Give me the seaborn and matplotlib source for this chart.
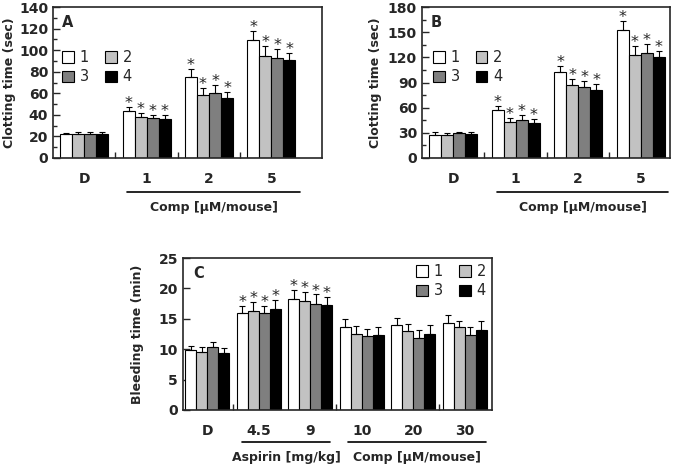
import numpy as np
import pandas as pd
import matplotlib.pyplot as plt
from matplotlib.ticker import MultipleLocator
import seaborn as sns

sns.set_theme(style='ticks')
plt.rcParams['font.family'] = ['DejaVu Sans']

series = ['1', '2', '3', '4']
bar_colors = ['#ffffff', '#c2c2c2', '#7f7f7f', '#000000']

# panel A: clotting time (sec)
groups_a = ['D', '1', '2', '5']
a_mean = {'1': [22, 43.5, 75, 109], '2': [22.5, 38, 58, 95],
          '3': [22, 37, 60.5, 92.5], '4': [22.5, 36.5, 56, 91]}
a_err = {'1': [1.5, 3.5, 7.5, 9], '2': [1.5, 3.5, 7, 9],
         '3': [2, 3, 7, 9], '4': [1.5, 3, 5, 6]}
a_stars = [1, 2, 3]

# panel B: clotting time (sec)
groups_b = ['D', '1', '2', '5']
b_mean = {'1': [27, 57.5, 102, 153], '2': [28, 43, 87.5, 123],
          '3': [29.5, 45, 84.5, 125], '4': [28.5, 42, 80.5, 120]}
b_err = {'1': [3.5, 4.5, 8, 10], '2': [2, 5, 7, 11],
         '3': [1.5, 6, 7.5, 11], '4': [2, 4, 7.5, 8]}
b_stars = [1, 2, 3]

# panel C: bleeding time (min)
groups_c = ['D', '4.5', '9', '10', '20', '30']
c_mean = {'1': [9.8, 15.9, 18.2, 13.6, 14.0, 14.3],
          '2': [9.5, 16.2, 17.9, 12.5, 13.0, 13.6],
          '3': [10.3, 15.9, 17.5, 12.1, 11.9, 12.3],
          '4': [9.3, 16.6, 17.3, 12.4, 12.5, 13.2]}
c_err = {'1': [0.8, 1.2, 1.5, 1.3, 1.1, 1.3],
         '2': [0.9, 1.5, 1.5, 1.3, 1.2, 1.1],
         '3': [0.9, 1.2, 1.5, 1.2, 1.2, 1.3],
         '4': [0.9, 1.5, 1.3, 1.2, 1.5, 1.4]}
c_stars = [1, 2]


def draw_panel(ax, groups, means, errs, stars, width, xlim, ylim, major,
               minor, seps, letter, ylabel, ylab_x, leg_xy):
    df = pd.DataFrame([(g, s, means[s][i]) for s in series
                       for i, g in enumerate(groups)],
                      columns=['group', 'series', 'value'])
    sns.barplot(data=df, x='group', y='value', hue='series', order=groups,
                hue_order=series, palette=bar_colors, saturation=1,
                edgecolor='black', linewidth=0.8, width=width,
                errorbar=None, legend=False, ax=ax)
    bars = list(ax.containers)
    for s, cont in zip(series, bars):
        for p in cont.patches:
            x = p.get_x() + p.get_width() / 2
            gi = int(round(x))
            top = p.get_height() + errs[s][gi]
            ax.errorbar(x, p.get_height(), yerr=[[0], [errs[s][gi]]],
                        fmt='none', ecolor='black', elinewidth=0.8,
                        capsize=2.5, capthick=0.8)
            if gi in stars:
                ax.annotate('*', (x, top), xytext=(0, 2.5),
                            textcoords='offset points', ha='center',
                            va='center', fontsize=11.5)
    ax.set_xlim(*xlim)
    ax.set_ylim(*ylim)
    ax.yaxis.set_major_locator(MultipleLocator(major))
    if minor:
        ax.yaxis.set_minor_locator(MultipleLocator(minor))
    ax.set_xticks(seps, minor=True)
    ax.tick_params(axis='x', which='major', length=0, pad=10)
    ax.tick_params(axis='x', which='minor', length=4, direction='in',
                   width=1)
    ax.tick_params(axis='y', which='both', direction='in', width=1)
    ax.tick_params(axis='y', which='major', length=5, pad=3.5)
    ax.tick_params(axis='y', which='minor', length=3)
    for lab in ax.get_xticklabels() + ax.get_yticklabels():
        lab.set_fontweight('bold')
        lab.set_fontsize(10)
    for sp in ax.spines.values():
        sp.set_visible(True)
        sp.set_linewidth(1.2)
    ax.set_xlabel('')
    ax.set_ylabel(ylabel, fontsize=9, fontweight='bold')
    ax.yaxis.set_label_coords(ylab_x, 0.5)
    ax.text(0.035, 0.90, letter, transform=ax.transAxes, fontsize=10.5,
            fontweight='bold', va='center', ha='left')
    handles = [c.patches[0] for c in bars]
    # ncol=2 fills column-wise, so 1,3 in first column and 2,4 in second
    order = [0, 2, 1, 3]
    ax.legend([handles[i] for i in order], [series[i] for i in order],
              ncol=2, loc='upper left', bbox_to_anchor=leg_xy,
              frameon=False, fontsize=10.5, handlelength=0.8,
              handleheight=0.8, handletextpad=0.4, columnspacing=1.1,
              labelspacing=0.3, borderpad=0, borderaxespad=0)


def group_line(ax, x0, x1, y_line, y_text, label):
    tr = ax.get_xaxis_transform()
    ax.plot([x0, x1], [y_line, y_line], transform=tr, clip_on=False,
            color='black', lw=1.2)
    ax.text((x0 + x1) / 2, y_text, label, transform=tr, ha='center',
            va='center', fontsize=9, fontweight='bold')


fig = plt.figure(figsize=(6.75, 4.68), dpi=100)
ax_a = fig.add_axes([0.0785, 0.6624, 0.3985, 0.3226])
ax_b = fig.add_axes([0.625, 0.6624, 0.3676, 0.3226])
ax_c = fig.add_axes([0.271, 0.124, 0.458, 0.3247])

draw_panel(ax_a, groups_a, a_mean, a_err, a_stars, 0.77, (-0.5, 3.81),
           (0, 140), 20, 10, [0.5, 1.5, 2.5], 'A', 'Clotting time (sec)',
           -0.138, (0.035, 0.715))
draw_panel(ax_b, groups_b, b_mean, b_err, b_stars, 0.77, (-0.5, 3.47),
           (0, 180), 30, 15, [0.5, 1.5, 2.5], 'B', 'Clotting time (sec)',
           -0.161, (0.045, 0.715))
draw_panel(ax_c, groups_c, c_mean, c_err, c_stars, 0.85, (-0.47, 5.53),
           (0, 25), 5, None, [0.5, 2.5, 4.5], 'C', 'Bleeding time (min)',
           -0.126, (0.755, 0.96))

group_line(ax_a, 0.69, 3.46, -0.225, -0.325, 'Comp [\u03bcM/mouse]')
group_line(ax_b, 0.70, 3.44, -0.225, -0.325, 'Comp [\u03bcM/mouse]')
group_line(ax_c, 0.68, 2.39, -0.21, -0.316, 'Aspirin [mg/kg]')
group_line(ax_c, 2.74, 5.42, -0.21, -0.316, 'Comp [\u03bcM/mouse]')

fig.savefig('out.png', dpi=100)
